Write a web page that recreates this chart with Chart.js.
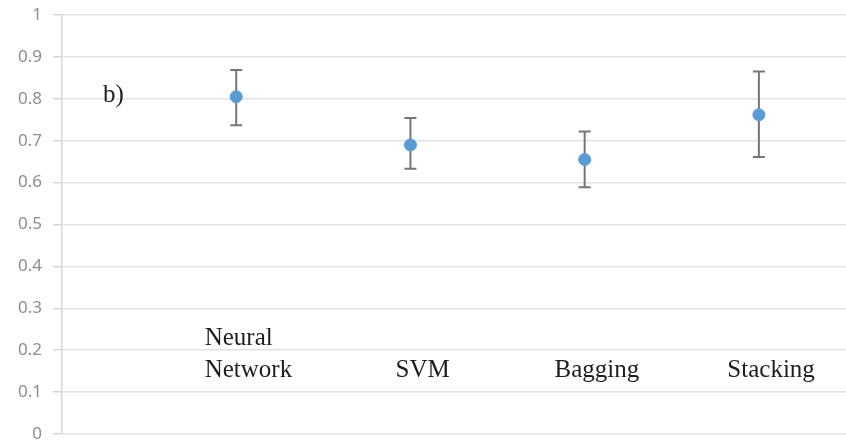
<!DOCTYPE html>
<html>
<head>
<meta charset="utf-8">
<script src="https://cdn.jsdelivr.net/npm/chart.js@4"></script>
<style>
  html, body { margin: 0; padding: 0; background: #fff; }
  #wrap { width: 846px; height: 448px; }
</style>
</head>
<body>
<div id="wrap"><canvas id="chart" width="846" height="448"></canvas></div>
<script>
// models shown along the x axis (position 1..4)
const models = [['Neural', 'Network'], ['SVM'], ['Bagging'], ['Stacking']];
const positions = [1, 2, 3, 4];
const means = [0.805, 0.69, 0.655, 0.762];
const upper = [0.869, 0.754, 0.722, 0.865];
const lower = [0.737, 0.633, 0.589, 0.661];
const yTicks = [0, 0.1, 0.2, 0.3, 0.4, 0.5, 0.6, 0.7, 0.8, 0.9, 1];

const errorBars = {
  id: 'errorBars',
  beforeDatasetsDraw(chart) {
    const { ctx, scales: { x, y } } = chart;
    ctx.save();
    ctx.strokeStyle = '#767676';
    ctx.lineWidth = 2;
    positions.forEach((p, i) => {
      const px = x.getPixelForValue(p);
      const top = y.getPixelForValue(upper[i]);
      const bot = y.getPixelForValue(lower[i]);
      ctx.beginPath();
      ctx.moveTo(px, top); ctx.lineTo(px, bot);
      ctx.moveTo(px - 6, top); ctx.lineTo(px + 6, top);
      ctx.moveTo(px - 6, bot); ctx.lineTo(px + 6, bot);
      ctx.stroke();
    });
    ctx.restore();
  }
};

// category names written inside the plot, like text boxes
const modelLabels = {
  id: 'modelLabels',
  afterDraw(chart) {
    const { ctx, scales: { x, y } } = chart;
    ctx.save();
    ctx.fillStyle = '#1e1e1e';
    ctx.font = '25px "Liberation Serif", "Times New Roman", serif';
    ctx.textBaseline = 'alphabetic';
    models.forEach((lines, i) => {
      const cx = x.getPixelForValue(positions[i] + 0.07);
      const base = y.getPixelForValue(0.136);
      const left = cx - ctx.measureText(lines[lines.length - 1]).width / 2;
      ctx.textAlign = lines.length > 1 ? 'left' : 'center';
      lines.forEach((t, j) => {
        const ly = base - (lines.length - 1 - j) * 32;
        ctx.fillText(t, lines.length > 1 ? left : cx, ly);
      });
    });
    ctx.textAlign = 'left';
    ctx.fillText('b)', 103, 102);
    ctx.restore();
  }
};

new Chart(document.getElementById('chart'), {
  type: 'scatter',
  data: {
    datasets: [{
      data: positions.map((p, i) => ({ x: p, y: means[i] })),
      backgroundColor: '#5b9bd5',
      borderColor: '#5b9bd5',
      pointRadius: 6,
      pointHoverRadius: 6
    }]
  },
  options: {
    responsive: false,
    animation: false,
    layout: { autoPadding: false, padding: { top: 15, bottom: 14, left: 0, right: 0 } },
    plugins: { legend: { display: false }, tooltip: { enabled: false } },
    scales: {
      x: { type: 'linear', min: 0, max: 4.5, display: false },
      y: {
        min: 0, max: 1,
        afterBuildTicks: s => { s.ticks = yTicks.map(v => ({ value: v })); },
        afterFit: s => { s.width = 62; s.paddingTop = 0; s.paddingBottom = 0; },
        grid: { color: '#e2e2e2', lineWidth: 1.5, tickLength: 9, tickColor: '#d6d6d6' },
        border: { color: '#d6d6d6', width: 1.5 },
        ticks: {
          color: '#8e8e8e',
          padding: 11,
          font: { family: '"Noto Sans", "Liberation Sans", sans-serif', size: 17 },
          callback: v => String(v)
        }
      }
    }
  },
  plugins: [errorBars, modelLabels]
});
</script>
</body>
</html>
